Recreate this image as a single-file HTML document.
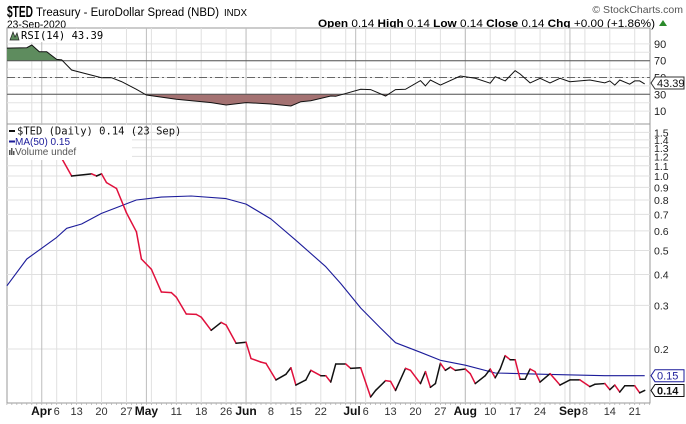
<!DOCTYPE html>
<html><head><meta charset="utf-8"><style>
body{margin:0;background:#fff;}
svg{display:block;font-family:"Liberation Sans",sans-serif;}
</style></head><body>
<svg id="c" width="686" height="424" viewBox="0 0 686 424" xmlns="http://www.w3.org/2000/svg">
<text x="7" y="17" font-size="16" font-weight="bold" textLength="26" lengthAdjust="spacingAndGlyphs">$TED</text>
<text x="36" y="16" font-size="11.5" textLength="183" lengthAdjust="spacingAndGlyphs">Treasury - EuroDollar Spread (NBD)</text>
<text x="224" y="16" font-size="10" textLength="23" lengthAdjust="spacingAndGlyphs">INDX</text>
<text x="7" y="28" font-size="11" textLength="59" lengthAdjust="spacingAndGlyphs">23-Sep-2020</text>
<text x="683" y="13" text-anchor="end" font-size="10.5" fill="#555">© StockCharts.com</text>
<text x="318" y="27" font-size="11" textLength="337" lengthAdjust="spacingAndGlyphs"><tspan font-weight="bold">Open</tspan> 0.14 <tspan font-weight="bold">High</tspan> 0.14 <tspan font-weight="bold">Low</tspan> 0.14 <tspan font-weight="bold">Close</tspan> 0.14 <tspan font-weight="bold">Chg</tspan> +0.00 (+1.86%)</text>
<path d="M659 26 L663 20 L667 26 Z" fill="#2a8a2a"/>
<g id="grid"></g>
<g id="rsi"></g>
<g id="main"></g>
<g id="axes"></g>
</svg>
<script>
// ---- data ----
const priceDays = [1,3,7,8,9,10,12,14,16,17,19,21,23,24,26,28,29,31,33,34,36,38,39,41,42,44,46,47,48,50,51,53,54,55,56,58,59,61,63,64,66,67,68,70,71,73,74,75,76,77,78,79,80,82,83,84,86,87,88,89,90,91,92,93,94,95,96,97,99,100,101,103,105,107,108,110,111,112,113,114,116,117,118];
const priceValues = [1.18,1.00,1.02,1.00,1.02,0.94,0.89,0.71,0.595,0.462,0.42,0.34,0.338,0.324,0.277,0.276,0.269,0.238,0.256,0.25,0.211,0.213,0.183,0.177,0.175,0.150,0.158,0.168,0.143,0.150,0.164,0.156,0.156,0.147,0.174,0.174,0.167,0.168,0.128,0.136,0.149,0.148,0.136,0.167,0.164,0.145,0.162,0.140,0.145,0.175,0.164,0.169,0.164,0.166,0.159,0.145,0.156,0.166,0.153,0.166,0.188,0.181,0.181,0.151,0.151,0.166,0.162,0.147,0.159,0.151,0.143,0.150,0.150,0.141,0.144,0.145,0.137,0.143,0.134,0.142,0.142,0.133,0.136];
const maDays = [-10,-6,0,2,5,9,12,16,21,27,34,38,43,48,54,57,61,65,68,73,77,82,88,98,110,118];
const maValues = [0.36,0.462,0.565,0.615,0.64,0.706,0.745,0.80,0.822,0.83,0.81,0.77,0.67,0.55,0.43,0.368,0.293,0.243,0.212,0.194,0.18,0.172,0.16,0.158,0.156,0.156];
const rsiDays = [-10,-6,-5,-3.5,-2,0,1,3,9,11,13,16,18,24,31,34,38,43,47,49,51,55,56,61,63,66,68,70,73,74,75,77,81,84,87,88,90,92,93,95,97,99,101,103,107,110,111,112,113,115,116,117,118];
const rsiValues = [85,85.5,88.7,80.7,80.7,71.6,71,58.9,49.8,49.8,45.1,36,29.2,24.1,20.1,17.3,20.1,18.5,16.1,21.2,22.4,28,27.6,36,35.6,28,35.6,36,46.3,40,47,41,51.8,49,43.2,51,46,58.1,54.2,43.6,49,43.6,49,45,47,43.6,46,41,47,42,46,46,42.4,43.4];
const priceTicks = [1.5,1.4,1.3,1.2,1.1,1.0,0.9,0.8,0.7,0.6,0.5,0.4,0.3,0.2];
const rsiTicks = [90,70,50,30,10];
const weekDays = [-5,0,4,9,14,19,24,29,34,38,43,48,53,58,62,67,72,77,82,87,92,97,102,106,111,116];
const weekLabels = ["","6","13","20","27","","11","18","26","","8","15","22","","6","13","20","27","","10","17","24","","8","14","21"];
const monthDays = [-3,18,38,60,82,103];
const monthLabels = ["Apr","May","Jun","Jul","Aug","Sep"];

const NS="http://www.w3.org/2000/svg";
const L=7,R=650,RT=28,RB=124,MT=124,MB=403;
const x=d=>56.7+d*4.983;
const y=v=>176-247.5*Math.log10(v);
const ry=v=>60.7+(70-v)*0.84;
function mk(tag,attrs,parent){const e=document.createElementNS(NS,tag);for(const k in attrs)e.setAttribute(k,attrs[k]);parent.appendChild(e);return e;}
const grid=document.getElementById('grid'),rsiG=document.getElementById('rsi'),mainG=document.getElementById('main'),axes=document.getElementById('axes');

let e=mk('rect',{x:L,y:RT,width:R-L,height:RB-RT,fill:'#fff',stroke:'#999'},grid);


e=mk('rect',{x:L,y:MT,width:R-L,height:MB-MT,fill:'#fff',stroke:'#999'},grid);


for(let v=10;v<=90;v+=10){e=mk('line',{x1:L,x2:R,y1:ry(v),y2:ry(v),stroke:'#e4e4e4'},grid);

}
priceTicks.forEach(v=>{e=mk('line',{x1:L,x2:R,y1:y(v),y2:y(v),stroke:'#e0e0e0'},grid);

});
weekDays.forEach(d=>{[[RT,RB],[MT,MB]].forEach(p=>{e=mk('line',{x1:x(d),x2:x(d),y1:p[0],y2:p[1],stroke:'#e0e0e0'},grid);

});});
monthDays.forEach(d=>{[[RT,RB],[MT,MB]].forEach(p=>{e=mk('line',{x1:x(d),x2:x(d),y1:p[0],y2:p[1],stroke:'#bdbdbd'},grid);

});});

const rpts=rsiDays.map((d,i)=>[x(d),ry(rsiValues[i])]);
const rline=rpts.map(p=>p[0].toFixed(1)+','+p[1].toFixed(1)).join(' ');
const defs=mk('defs',{},rsiG);
let cp=mk('clipPath',{id:'above70'},defs);mk('rect',{x:L,y:RT,width:R-L,height:ry(70)-RT},cp);
cp=mk('clipPath',{id:'below30'},defs);mk('rect',{x:L,y:ry(30),width:R-L,height:RB-ry(30)},cp);
const x0=rpts[0][0],x1=rpts[rpts.length-1][0];
e=mk('polygon',{points:rline+' '+x1+','+ry(70)+' '+x0+','+ry(70),fill:'#5e8c5e','clip-path':'url(#above70)'},rsiG);


e=mk('polygon',{points:rline+' '+x1+','+ry(30)+' '+x0+','+ry(30),fill:'#a47272','clip-path':'url(#below30)'},rsiG);


[70,30].forEach(v=>{e=mk('line',{x1:L,x2:R,y1:ry(v),y2:ry(v),stroke:'#555'},rsiG);

});
e=mk('line',{x1:L,x2:R,y1:ry(50),y2:ry(50),stroke:'#666','stroke-dasharray':'8,3,2,3'},rsiG);


e=mk('polyline',{points:rline,fill:'none',stroke:'#111','stroke-width':1},rsiG);


e=mk('rect',{x:8,y:29,width:74,height:13,fill:'#fff'},rsiG);


e=mk('path',{d:'M10 40 L13 32 L15 37 L17 33 L19 40 Z',fill:'#5e8c5e',stroke:'#222','stroke-width':0.7},rsiG);


e=mk('text',{x:21,y:39,'font-size':10.5,'font-family':'DejaVu Sans Mono, Liberation Mono, monospace'},rsiG);e.textContent='RSI(14) 43.39';



const mpts=maDays.map((d,i)=>x(d).toFixed(1)+','+y(maValues[i]).toFixed(1)).join(' ');
e=mk('polyline',{points:mpts,fill:'none',stroke:'#1c1c9a','stroke-width':1.1,'stroke-linejoin':'round'},mainG);


for(let i=1;i<priceDays.length;i++){
  const down=priceValues[i]<priceValues[i-1];
  e=mk('line',{x1:x(priceDays[i-1]),y1:y(priceValues[i-1]),x2:x(priceDays[i]),y2:y(priceValues[i]),stroke:down?'#e0103c':'#111','stroke-width':1.5,'stroke-linecap':'round'},mainG);
  
  
}
e=mk('rect',{x:8,y:125,width:124,height:35,fill:'#fff'},mainG);


const lg=[['$TED (Daily) 0.14 (23 Sep)','#111',134.5],['MA(50) 0.15','#1c1c9a',145],['Volume undef','#555',155]];
lg.forEach((l,i)=>{
  if(i<2){e=mk('line',{x1:9,x2:15,y1:l[2]-3.5,y2:l[2]-3.5,stroke:l[1],'stroke-width':2},mainG);
  
  }
  else{e=mk('path',{d:'M9 155V150h1.5v5M11 155V148h1.5v7M13 155v-4h1.5v4',fill:'#555'},mainG);
  
  }
  e=mk('text',{x:i==0?17:15,y:l[2],'font-size':i==0?10.5:10,fill:l[1],'font-family':i==0?'DejaVu Sans Mono, Liberation Mono, monospace':'Liberation Sans, sans-serif'},mainG);e.textContent=l[0];
  
  
});

priceTicks.forEach(v=>{e=mk('text',{x:654,y:y(v)+4,'font-size':10.5,fill:'#222'},axes);e.textContent=v.toFixed(1);

});
rsiTicks.forEach(v=>{e=mk('text',{x:654,y:ry(v)+4,'font-size':11,fill:'#222'},axes);e.textContent=v;

});
for(let d=-10;d<=119;d++){e=mk('line',{x1:x(d),x2:x(d),y1:MB,y2:MB+2,stroke:'#aaa','stroke-width':0.7},axes);

}
weekDays.forEach((d,i)=>{if(!weekLabels[i])return;e=mk('text',{x:x(d),y:415,'text-anchor':'middle','font-size':11,fill:'#333'},axes);e.textContent=weekLabels[i];

});
monthDays.forEach((d,i)=>{e=mk('text',{x:x(d),y:415,'text-anchor':i==0||i==3?'end':'middle','font-size':12,'font-weight':'bold',fill:'#111'},axes);
if(i==0)e.setAttribute('x',x(d)+10);
if(i==3)e.setAttribute('x',x(d)+5);
e.textContent=monthLabels[i];

});

function tag(yc,txt,col,bold,name){
  const g=mk('g',{},axes);
  
  
  mk('path',{d:`M651 ${yc} L655 ${yc-6} H684 V${yc+6} H655 Z`,fill:'#fff',stroke:col,'stroke-width':1},g);
  const t=mk('text',{x:657,y:yc+4,'font-size':11,'font-weight':bold?'bold':'normal',fill:col==='#1c1c9a'?'#1c1c9a':'#111'},g);t.textContent=txt;
}
tag(ry(rsiValues[rsiValues.length-1]),'43.39','#333',false,'rsi-value-tag');
tag(y(maValues[maValues.length-1]),'0.15','#1c1c9a',false,'ma-value-tag');
tag(y(priceValues[priceValues.length-1]),'0.14','#111',true,'price-value-tag');
</script>
</body></html>
